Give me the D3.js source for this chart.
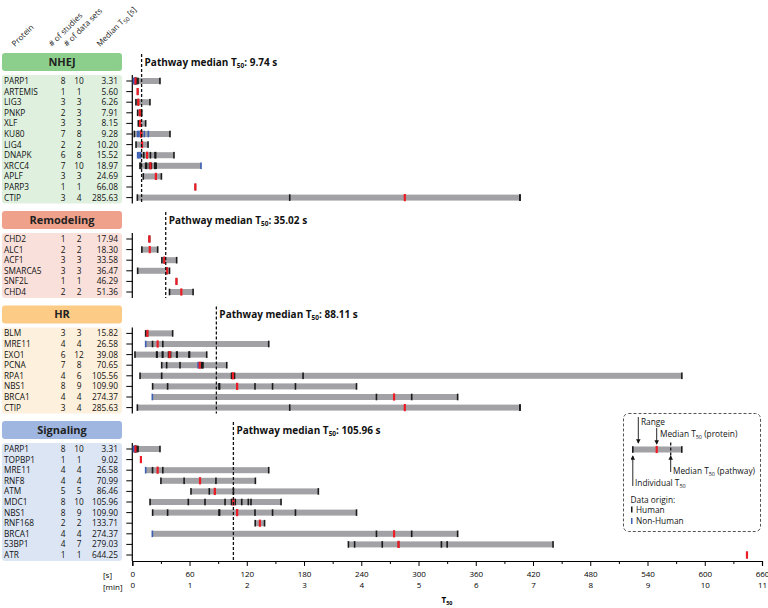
<!DOCTYPE html>
<html><head><meta charset="utf-8">
<script src="https://cdn.jsdelivr.net/npm/d3@7"></script>
<style>
body{margin:0;background:#fff;}
text{font-family:"Open Sans",sans-serif;}
</style></head>
<body><svg id="c" width="768" height="608"></svg>
<script>
// ---------- DATA ----------
const groupNames = ["NHEJ","Remodeling","HR","Signaling"];
const pathwayMedians = [9.74, 35.02, 88.11, 105.96];

const nhejProteins = ["PARP1","ARTEMIS","LIG3","PNKP","XLF","KU80","LIG4","DNAPK","XRCC4","APLF","PARP3","CTIP"];
const nhejStudies  = [8,1,3,2,3,7,2,6,7,3,1,3];
const nhejSets     = [10,1,3,3,3,8,2,8,10,3,1,4];
const nhejMedians  = [3.31,5.60,6.26,7.91,8.15,9.28,10.20,15.52,18.97,24.69,66.08,285.63];
const nhejHuman = [
  [2.9,3.2,3.42,4.0,4.8,6.0,29.0],[5.6],[3.8,6.26,18.5],[5.6,7.91,9.9],[6.3,8.15,14.0],
  [2.1,9.0,9.56,39.5],[3.9,16.5],[12.04,19.0,23.8,24.5,43.7],[8.0,9.0,14.0,15.0,18.0,19.94,23.5,24.0,25.0],
  [11.5,24.69,30.5],[66.08],[5.3,165.0,406.26,406.4]];
const nhejNonHuman = [[1.2,1.8,2.4],[],[],[],[],[5.6,7.0,12.6,16.8],[],[5.6,7.0,8.5],[72.0],[],[],[]];

const remProteins = ["CHD2","ALC1","ACF1","SMARCA5","SNF2L","CHD4"];
const remStudies  = [1,2,3,3,1,2];
const remSets     = [2,2,3,3,1,2];
const remMedians  = [17.94,18.30,33.58,36.47,46.29,51.36];
const remHuman = [[17.8,18.08],[10.0,26.6],[31.0,33.58,46.5],[5.6,36.47,39.0],[46.29],[39.0,63.72]];
const remNonHuman = [[],[],[],[],[],[]];

const hrProteins = ["BLM","MRE11","EXO1","PCNA","RPA1","NBS1","BRCA1","CTIP"];
const hrStudies  = [3,4,6,7,4,8,4,3];
const hrSets     = [3,4,12,8,6,9,4,4];
const hrMedians  = [15.82,26.58,39.08,70.65,105.56,109.90,274.37,285.63];
const hrHuman = [[14.0,15.82,42.3],[21.2,31.96,143.0],
  [2.8,25.5,26.0,31.5,32.0,38.0,40.16,46.5,47.0,59.4,60.0,78.0],
  [30.8,36.0,50.0,72.3,73.5,74.0,99.0],[8.1,30.8,104.0,107.12,179.0,576.0],
  [21.3,37.0,90.9,91.5,109.9,128.6,147.0,171.0,235.0],[255.9,292.84,341.0],[5.3,165.0,406.26,406.4]];
const hrNonHuman = [[],[14.0],[],[69.0],[],[],[21.0],[]];

const sigProteins = ["PARP1","TOPBP1","MRE11","RNF8","ATM","MDC1","NBS1","RNF168","BRCA1","53BP1","ATR"];
const sigStudies  = [8,1,4,4,5,8,8,2,4,4,1];
const sigSets     = [10,1,4,4,5,10,9,2,4,7,1];
const sigMedians  = [3.31,9.02,26.58,70.99,86.46,105.96,109.90,133.71,274.37,279.03,644.25];
const sigHuman = [[2.9,3.2,3.42,4.0,4.8,6.0,29.0],[9.02],[21.2,31.96,143.0],[30.0,54.3,87.68,129.0],
  [61.5,80.7,86.46,106.0,195.0],[18.6,58.7,76.2,97.2,104.0,107.92,114.7,121.6,124.4,155.9],
  [21.3,37.0,90.9,91.5,109.9,128.6,147.0,171.0,235.0],[128.8,138.62],[255.9,292.84,341.0],
  [226.5,233.0,262.0,279.03,324.0,330.0,441.0],[644.25]];
const sigNonHuman = [[1.2,1.8,2.4],[],[14.0],[],[],[],[],[],[21.0],[],[]];

const secTicks = d3.range(0, 661, 60);
const minorTicks = d3.range(30, 660, 60);

// ---------- STYLE ----------
const headerFill = ["#8ccf8c","#f0a18b","#fccb86","#9fb6e0"];
const bgFill     = ["#dff0df","#f9e0da","#fdf0dc","#dce5f3"];
const GRAY="#a2a2a6", RED="#ee1c24", BLUE="#3b5fb5";

const svg = d3.select("#c");
svg.append("rect").attr("width",768).attr("height",608).attr("fill","#fff");

const x = d3.scaleLinear().domain([0,660]).range([132.3,762]);

const groups = [
  {p:nhejProteins,s:nhejStudies,d:nhejSets,m:nhejMedians,h:nhejHuman,n:nhejNonHuman},
  {p:remProteins,s:remStudies,d:remSets,m:remMedians,h:remHuman,n:remNonHuman},
  {p:hrProteins,s:hrStudies,d:hrSets,m:hrMedians,h:hrHuman,n:hrNonHuman},
  {p:sigProteins,s:sigStudies,d:sigSets,m:sigMedians,h:sigHuman,n:sigNonHuman}];

const STEP=10.6, GAP=30.8;
let first = 81;
groups.forEach((g,gi)=>{
  const n=g.p.length;
  const y = d3.scalePoint().domain(d3.range(n)).range([first, first+(n-1)*STEP]);
  const last = first+(n-1)*STEP;
  const bgTop = first-6, bgBot = last+6;
  const G = svg.append("g");
  G.append("rect").attr("x",2).attr("y",first-28).attr("width",120).attr("height",18).attr("rx",3).attr("fill",headerFill[gi]);
  G.append("text").attr("x",62).attr("y",first-15).attr("text-anchor","middle")
    .attr("font-size",11).attr("font-weight","bold").attr("fill","#222").text(groupNames[gi]);
  G.append("rect").attr("x",2).attr("y",bgTop).attr("width",120).attr("height",bgBot-bgTop).attr("rx",3).attr("fill",bgFill[gi]);
  g.p.forEach((p,i)=>{
    const yy=y(i)+3;
    G.append("text").attr("x",4).attr("y",yy).attr("font-size",8.3).attr("fill","#111").text(p);
    G.append("text").attr("x",63).attr("y",yy).attr("font-size",8.3).attr("text-anchor","middle").attr("fill","#111").text(g.s[i]);
    G.append("text").attr("x",79).attr("y",yy).attr("font-size",8.3).attr("text-anchor","middle").attr("fill","#111").text(g.d[i]);
    G.append("text").attr("x",118).attr("y",yy).attr("font-size",8.3).attr("text-anchor","end").attr("fill","#111").text(g.m[i].toFixed(2));
  });
  const axBot = gi===3 ? 561 : bgBot;
  G.append("line").attr("x1",x(0)).attr("x2",x(0)).attr("y1",bgTop).attr("y2",axBot).attr("stroke","#000").attr("stroke-width",1.2);
  g.p.forEach((p,i)=>{
    G.append("line").attr("x1",x(0)-6).attr("x2",x(0)).attr("y1",y(i)).attr("y2",y(i)).attr("stroke","#000").attr("stroke-width",1);
  });
  g.p.forEach((p,i)=>{
    const all = g.h[i].concat(g.n[i]);
    const mn=d3.min(all), mx=d3.max(all);
    const yy=y(i);
    if(mx>mn) G.append("rect").attr("x",x(mn)).attr("y",yy-3).attr("width",x(mx)-x(mn)).attr("height",6).attr("fill",GRAY);
    g.h[i].forEach(v=>G.append("rect").attr("x",x(v)-0.8).attr("y",yy-3.3).attr("width",1.6).attr("height",6.6).attr("fill","#1a1a1a"));
    g.n[i].forEach(v=>G.append("rect").attr("x",x(v)-0.8).attr("y",yy-3.3).attr("width",1.6).attr("height",6.6).attr("fill",BLUE));
    G.append("rect").attr("x",x(g.m[i])-1.1).attr("y",yy-3.6).attr("width",2.2).attr("height",7.2).attr("fill",RED);
  });
  const px = x(pathwayMedians[gi]);
  G.append("line").attr("x1",px).attr("x2",px).attr("y1",first-27).attr("y2",axBot)
    .attr("stroke","#111").attr("stroke-width",1.3).attr("stroke-dasharray","3,2");
  const t = G.append("text").attr("x",px+3).attr("y",first-15).attr("font-size",10).attr("font-weight","bold").attr("fill","#111");
  t.append("tspan").text("Pathway median T");
  t.append("tspan").attr("font-size",6.5).attr("dy",2).text("50");
  t.append("tspan").attr("dy",-2).text(": "+pathwayMedians[gi].toFixed(2)+" s");
  first = last + STEP + GAP;
});

// column headers (rotated)
const colHeads = [{t:"Protein",x:15},{t:"# of studies",x:52},{t:"# of data sets",x:67},{t:"Median T",x:100,sub:"50",after:" [s]"}];
colHeads.forEach(c=>{
  const t=svg.append("text").attr("transform","translate("+c.x+",47) rotate(-45)").attr("font-size",8).attr("fill","#222");
  t.append("tspan").text(c.t);
  if(c.sub){t.append("tspan").attr("font-size",5.8).attr("dy",2).text(c.sub);t.append("tspan").attr("dy",-2).text(c.after);}
});

// bottom axis
const ax = svg.append("g").attr("transform","translate(0,561)")
  .call(d3.axisBottom(x).tickValues(secTicks).tickSize(5).tickPadding(5).tickFormat(d3.format("d")));
ax.select(".domain").attr("stroke-width",1.2);
ax.selectAll("text").attr("font-size",8).attr("font-family","Open Sans");
const axm = svg.append("g").attr("transform","translate(0,561)")
  .call(d3.axisBottom(x).tickValues(minorTicks).tickSize(3).tickFormat(""));
axm.select(".domain").remove();
const ax2 = svg.append("g").attr("transform","translate(0,561)")
  .call(d3.axisBottom(x).tickValues(secTicks).tickSize(0).tickPadding(21).tickFormat(d=>d/60));
ax2.select(".domain").remove();
ax2.selectAll("text").attr("font-size",8).attr("font-family","Open Sans");
svg.append("text").attr("x",103).attr("y",578).attr("font-size",8).text("[s]");
svg.append("text").attr("x",103).attr("y",590).attr("font-size",8).text("[min]");
const tt = svg.append("text").attr("x",447).attr("y",603).attr("text-anchor","middle").attr("font-size",8).attr("font-weight","bold");
tt.append("tspan").text("T");
tt.append("tspan").attr("font-size",5.5).attr("dy",2).text("50");

// legend
const L = svg.append("g");
L.append("rect").attr("x",623.5).attr("y",413.5).attr("width",137).attr("height",118).attr("rx",5)
  .attr("fill","none").attr("stroke","#555").attr("stroke-dasharray","3,2");
svg.append("defs").append("marker").attr("id","ah").attr("viewBox","0 0 6 6").attr("refX",5).attr("refY",3)
  .attr("markerWidth",5).attr("markerHeight",5).attr("orient","auto")
  .append("path").attr("d","M0,0L6,3L0,6Z").attr("fill","#111");
const ly=449.5;
L.append("rect").attr("x",632.5).attr("y",ly-3).attr("width",49).attr("height",6).attr("fill",GRAY);
L.append("rect").attr("x",632).attr("y",ly-3.3).attr("width",1.6).attr("height",6.6).attr("fill","#1a1a1a");
L.append("rect").attr("x",681).attr("y",ly-3.3).attr("width",1.6).attr("height",6.6).attr("fill","#1a1a1a");
L.append("rect").attr("x",655.6).attr("y",ly-3.6).attr("width",2.2).attr("height",7.2).attr("fill",RED);
L.append("line").attr("x1",670.7).attr("x2",670.7).attr("y1",ly-7).attr("y2",ly+7).attr("stroke","#111").attr("stroke-width",1.3).attr("stroke-dasharray","3,2");
function arrow(x1,y1,x2,y2){L.append("line").attr("x1",x1).attr("y1",y1).attr("x2",x2).attr("y2",y2).attr("stroke","#111").attr("stroke-width",0.9).attr("marker-end","url(#ah)");}
arrow(638.3,417,638.3,443);
arrow(656.7,428,656.7,444);
arrow(670.7,472,670.7,456);
arrow(632.8,486,632.8,456);
function ltext(xx,yy,a,sub,b){const t=L.append("text").attr("x",xx).attr("y",yy).attr("font-size",8.3).attr("fill","#111");
  t.append("tspan").text(a); if(sub){t.append("tspan").attr("font-size",5.5).attr("dy",2).text(sub);t.append("tspan").attr("dy",-2).text(b);} }
ltext(641,424.5,"Range");
ltext(660,437,"Median T","50"," (protein)");
ltext(673,473.5,"Median T","50"," (pathway)");
ltext(635,485.5,"Individual T","50","");
ltext(630.5,503,"Data origin:");
L.append("rect").attr("x",631).attr("y",506.5).attr("width",1.5).attr("height",6).attr("fill","#1a1a1a");
ltext(636,512.5,"Human");
L.append("rect").attr("x",631).attr("y",518).attr("width",1.5).attr("height",6).attr("fill",BLUE);
ltext(636,524,"Non-Human");
</script></body></html>
